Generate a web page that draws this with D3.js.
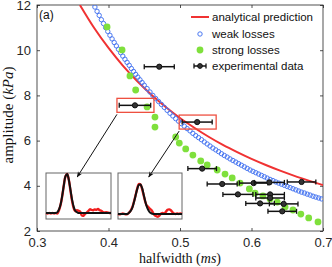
<!DOCTYPE html>
<html>
<head>
<meta charset="utf-8">
<script src="https://cdn.jsdelivr.net/npm/d3@7"></script>
<style>
  body { margin: 0; background: #fff; }
  svg { display: block; }
</style>
</head>
<body>
<svg id="chart"></svg>
<script>
// amplitude vs halfwidth, panel (a)

const xTicks = [0.3, 0.4, 0.5, 0.6, 0.7];
const yTicks = [2, 4, 6, 8, 10, 12];

// analytical prediction (red curve)
const analyticW = [0.36, 0.38, 0.40, 0.42, 0.44, 0.46, 0.48, 0.50, 0.52, 0.54, 0.56, 0.58, 0.60, 0.62, 0.64, 0.66, 0.68, 0.70];
const analyticA = [12.0, 10.98, 10.10, 9.32, 8.64, 8.03, 7.49, 7.00, 6.57, 6.17, 5.81, 5.49, 5.19, 4.92, 4.67, 4.44, 4.23, 4.03];

// weak losses (open blue circles)
const weakW = [0.378, 0.381, 0.384, 0.387, 0.390, 0.393, 0.396, 0.399, 0.402, 0.405, 0.408, 0.411, 0.414, 0.417, 0.420,
  0.423, 0.426, 0.429, 0.432, 0.435, 0.438, 0.441, 0.444, 0.447, 0.450, 0.454, 0.458, 0.462, 0.466, 0.470, 0.474, 0.478,
  0.482, 0.486, 0.490, 0.494, 0.498, 0.502, 0.506, 0.510, 0.514, 0.518, 0.522, 0.526, 0.530, 0.534, 0.538, 0.542, 0.546,
  0.550, 0.554, 0.558, 0.562, 0.566, 0.570, 0.574, 0.578, 0.582, 0.586, 0.590, 0.594, 0.598, 0.602, 0.606, 0.610, 0.614,
  0.618, 0.622, 0.626, 0.630, 0.634, 0.638, 0.642, 0.646, 0.650, 0.654, 0.658, 0.662, 0.666, 0.670, 0.674, 0.678, 0.682,
  0.686, 0.690, 0.694, 0.698];
const weakA = [12.10, 11.91, 11.72, 11.54, 11.35, 11.18, 11.00, 10.83, 10.66, 10.50, 10.34, 10.19, 10.04, 9.89, 9.74,
  9.60, 9.46, 9.33, 9.19, 9.06, 8.93, 8.81, 8.69, 8.57, 8.45, 8.30, 8.15, 8.00, 7.86, 7.73, 7.60, 7.47,
  7.34, 7.21, 7.09, 6.97, 6.86, 6.75, 6.64, 6.53, 6.43, 6.32, 6.22, 6.13, 6.04, 5.94, 5.85, 5.76, 5.67,
  5.59, 5.51, 5.42, 5.34, 5.27, 5.19, 5.12, 5.05, 4.98, 4.91, 4.84, 4.77, 4.70, 4.64, 4.58, 4.52, 4.46,
  4.40, 4.34, 4.28, 4.23, 4.17, 4.12, 4.07, 4.02, 3.97, 3.92, 3.87, 3.82, 3.77, 3.72, 3.68, 3.63, 3.59,
  3.54, 3.50, 3.46, 3.42];

// strong losses (filled green circles)
const strongW = [0.398, 0.419, 0.430, 0.438, 0.454, 0.465, 0.465, 0.494, 0.499, 0.508, 0.518, 0.529, 0.538, 0.552,
  0.563, 0.573, 0.584, 0.597, 0.605, 0.616, 0.626, 0.636, 0.647, 0.658, 0.669, 0.680, 0.693];
const strongA = [11.03, 10.01, 8.86, 8.24, 7.49, 7.04, 6.60, 6.16, 5.89, 5.63, 5.36, 5.10, 4.92, 4.70,
  4.52, 4.35, 4.12, 3.86, 3.68, 3.55, 3.42, 3.28, 3.06, 2.93, 2.75, 2.58, 2.40];

// experimental data with horizontal error bars
const expW = [0.471, 0.437, 0.524, 0.531, 0.559, 0.581, 0.603, 0.625, 0.670, 0.626, 0.626, 0.612, 0.645, 0.643];
const expA = [9.27, 7.56, 6.82, 4.76, 4.08, 3.62, 4.12, 4.15, 4.17, 3.62, 3.46, 3.22, 3.20, 2.87];
const expErr = [0.021, 0.022, 0.021, 0.020, 0.021, 0.021, 0.020, 0.021, 0.020, 0.020, 0.020, 0.020, 0.020, 0.020];

// highlighted points (indices into exp arrays) shown in the insets
const highlighted = [1, 2];

// inset pulses: normalised time and normalised amplitude
const insetT = [0, 0.025, 0.05, 0.075, 0.1, 0.125, 0.15, 0.175, 0.2, 0.225, 0.25, 0.275, 0.3, 0.325, 0.35, 0.375, 0.4,
  0.425, 0.45, 0.475, 0.5, 0.525, 0.55, 0.575, 0.6, 0.625, 0.65, 0.675, 0.7, 0.725, 0.75, 0.775, 0.8, 0.825, 0.85,
  0.875, 0.9, 0.925, 0.95, 0.975, 1];
const inset1Meas = [.13, .12, .13, .12, .13, .12, .13, .12, .19, .31, .50, .74, .93, .98, .86, .63, .40, .24, .17, .19,
  .18, .16, .08, .07, .11, .14, .17, .21, .20, .19, .21, .20, .22, .19, .18, .15, .14, .15, .14, .13, .13];
const inset1Fit = [.13, .13, .13, .13, .13, .13, .13, .15, .21, .32, .51, .74, .93, .98, .86, .65, .43, .27, .18, .15,
  .13, .13, .13, .13, .13, .13, .13, .13, .13, .13, .13, .13, .13, .13, .13, .13, .13, .13, .13, .13, .13];
const inset2Meas = [.11, .10, .11, .12, .11, .10, .11, .14, .19, .26, .38, .52, .66, .76, .75, .66, .52, .38, .29, .26,
  .22, .19, .13, .08, .06, .05, .08, .12, .13, .12, .16, .20, .21, .19, .15, .12, .11, .12, .11, .12, .11];
const inset2Fit = [.11, .11, .11, .11, .11, .11, .11, .14, .18, .25, .37, .51, .65, .74, .75, .68, .54, .39, .27, .19,
  .14, .12, .11, .11, .11, .11, .11, .11, .11, .11, .11, .11, .11, .11, .11, .11, .11, .11, .11, .11, .11];

// chart container specs
const width = 332;
const height = 267;
const plot = { left: 37, right: 323, top: 5, bottom: 231 };

const svg = d3.select("#chart")
  .attr("width", width)
  .attr("height", height)
  .attr("viewBox", `0 0 ${width} ${height}`);

const x = d3.scaleLinear().domain([0.3, 0.7]).range([plot.left, plot.right]);
const y = d3.scaleLinear().domain([2, 12]).range([plot.bottom, plot.top]);

const axisColor = "#262626";
const tickFont = "Liberation Sans, Arial, sans-serif";

svg.append("defs").append("clipPath").attr("id", "plot-clip")
  .append("rect")
  .attr("x", plot.left).attr("y", plot.top)
  .attr("width", plot.right - plot.left).attr("height", plot.bottom - plot.top);

svg.select("defs").append("marker")
  .attr("id", "arrowhead")
  .attr("viewBox", "0 0 10 10")
  .attr("refX", 9).attr("refY", 5)
  .attr("markerWidth", 6).attr("markerHeight", 6)
  .attr("orient", "auto")
  .append("path")
  .attr("d", "M0,1 L10,5 L0,9 L3,5 Z")
  .attr("fill", "#111");

// axes with inward ticks on all four sides
function styleAxis(g) {
  g.select(".domain").remove();
  g.selectAll(".tick line").attr("stroke", axisColor).attr("stroke-width", 0.8);
  g.selectAll(".tick text")
    .attr("fill", axisColor)
    .style("font-family", tickFont)
    .style("font-size", "13px");
}

svg.append("g")
  .attr("transform", `translate(0,${plot.bottom})`)
  .call(d3.axisBottom(x).tickValues(xTicks).tickFormat(d3.format(".1f")).tickSize(-3).tickPadding(7))
  .call(styleAxis);

svg.append("g")
  .attr("transform", `translate(0,${plot.top})`)
  .call(d3.axisTop(x).tickValues(xTicks).tickFormat("").tickSize(-3))
  .call(styleAxis);

svg.append("g")
  .attr("transform", `translate(${plot.left},0)`)
  .call(d3.axisLeft(y).tickValues(yTicks).tickSize(-3).tickPadding(6))
  .call(styleAxis);

svg.append("g")
  .attr("transform", `translate(${plot.right},0)`)
  .call(d3.axisRight(y).tickValues(yTicks).tickFormat("").tickSize(-3))
  .call(styleAxis);

svg.append("rect")
  .attr("x", plot.left).attr("y", plot.top)
  .attr("width", plot.right - plot.left).attr("height", plot.bottom - plot.top)
  .attr("fill", "none")
  .attr("stroke", axisColor)
  .attr("stroke-width", 0.8);

// axis labels
const xLabel = svg.append("text")
  .attr("x", (plot.left + plot.right) / 2)
  .attr("y", 263)
  .attr("text-anchor", "middle")
  .style("font-family", "Liberation Serif, Times New Roman, serif")
  .style("font-size", "14px")
  .attr("fill", "#111");
xLabel.append("tspan").text("halfwidth (");
xLabel.append("tspan").attr("font-style", "italic").text("ms");
xLabel.append("tspan").text(")");

const yLabel = svg.append("text")
  .attr("transform", `translate(13,${(plot.top + plot.bottom) / 2 - 3}) rotate(-90)`)
  .attr("text-anchor", "middle")
  .style("font-family", "Liberation Serif, Times New Roman, serif")
  .style("font-size", "15px")
  .attr("fill", "#111");
yLabel.append("tspan").text("amplitude (");
yLabel.append("tspan").attr("font-style", "italic").text("kPa");
yLabel.append("tspan").text(")");

const plotArea = svg.append("g").attr("clip-path", "url(#plot-clip)");

// analytical prediction
const analytic = analyticW.map((w, i) => ({ w, a: analyticA[i] }));
plotArea.append("path")
  .datum(analytic)
  .attr("fill", "none")
  .attr("stroke", "#f03232")
  .attr("stroke-width", 2)
  .attr("d", d3.line().x(d => x(d.w)).y(d => y(d.a)).curve(d3.curveMonotoneX));

// weak losses
plotArea.selectAll(".weak")
  .data(weakW.map((w, i) => ({ w, a: weakA[i] })))
  .enter()
  .append("circle")
  .attr("class", "weak")
  .attr("cx", d => x(d.w))
  .attr("cy", d => y(d.a))
  .attr("r", 2.2)
  .attr("fill", "none")
  .attr("stroke", "#4a78f2")
  .attr("stroke-width", 1);

// strong losses
plotArea.selectAll(".strong")
  .data(strongW.map((w, i) => ({ w, a: strongA[i] })))
  .enter()
  .append("circle")
  .attr("class", "strong")
  .attr("cx", d => x(d.w))
  .attr("cy", d => y(d.a))
  .attr("r", 3.4)
  .attr("fill", "#7fe03c");

// experimental data
const exp = expW.map((w, i) => ({ w, a: expA[i], e: expErr[i] }));
const expG = plotArea.selectAll(".exp")
  .data(exp)
  .enter()
  .append("g")
  .attr("class", "exp");

expG.append("line")
  .attr("x1", d => x(d.w - d.e)).attr("x2", d => x(d.w + d.e))
  .attr("y1", d => y(d.a)).attr("y2", d => y(d.a))
  .attr("stroke", "#111").attr("stroke-width", 1.5);
[-1, 1].forEach(s => {
  expG.append("line")
    .attr("x1", d => x(d.w + s * d.e)).attr("x2", d => x(d.w + s * d.e))
    .attr("y1", d => y(d.a) - 2.5).attr("y2", d => y(d.a) + 2.5)
    .attr("stroke", "#111").attr("stroke-width", 1.3);
});
expG.append("circle")
  .attr("cx", d => x(d.w)).attr("cy", d => y(d.a))
  .attr("r", 2.6)
  .attr("fill", "#333")
  .attr("stroke", "#111")
  .attr("stroke-width", 1);

// red boxes around the highlighted measurements
const boxes = highlighted.map(i => exp[i]);
svg.selectAll(".hl")
  .data(boxes)
  .enter()
  .append("rect")
  .attr("class", "hl")
  .attr("x", d => x(d.w) - 18)
  .attr("y", d => y(d.a) - 7)
  .attr("width", 37)
  .attr("height", 14)
  .attr("fill", "none")
  .attr("stroke", "#ee5040")
  .attr("stroke-width", 1.3);

// insets
const insets = [
  { x0: 46, x1: 111, meas: inset1Meas, fit: inset1Fit },
  { x0: 118, x1: 182, meas: inset2Meas, fit: inset2Fit }
];
const insetTop = 173, insetBottom = 219;

insets.forEach((ins, k) => {
  const ix = d3.scaleLinear().domain([0, 1]).range([ins.x0, ins.x1]);
  const iy = d3.scaleLinear().domain([0, 1]).range([insetBottom, insetTop]);
  const g = svg.append("g");
  g.append("rect")
    .attr("x", ins.x0).attr("y", insetTop)
    .attr("width", ins.x1 - ins.x0).attr("height", insetBottom - insetTop)
    .attr("fill", "#fff")
    .attr("stroke", "#666")
    .attr("stroke-width", 1);
  const line = d3.line().x((d, i) => ix(insetT[i])).y(d => iy(d)).curve(d3.curveCatmullRom);
  g.append("path").datum(ins.meas)
    .attr("fill", "none").attr("stroke", "#f01e1e").attr("stroke-width", 2.4)
    .attr("d", line);
  g.append("path").datum(ins.fit)
    .attr("fill", "none").attr("stroke", "#111").attr("stroke-width", 2)
    .attr("d", line);

  // arrow from red box to inset
  const b = boxes[k];
  svg.append("line")
    .attr("x1", x(b.w) - 20 + 2).attr("y1", y(b.a) + 9)
    .attr("x2", ix(0.48)).attr("y2", insetTop + 4)
    .attr("stroke", "#111")
    .attr("stroke-width", 1)
    .attr("marker-end", "url(#arrowhead)");
});

// panel tag
svg.append("text")
  .attr("x", 39).attr("y", 19)
  .style("font-family", tickFont)
  .style("font-size", "12px")
  .attr("fill", "#111")
  .text("(a)");

// legend
const legend = svg.append("g").attr("transform", "translate(191,0)");
const legendFont = { family: tickFont, size: "11.5px" };
const rows = ["analytical prediction", "weak losses", "strong losses", "experimental data"];
const rowY = [17, 34, 50, 66];

legend.append("line")
  .attr("x1", 0).attr("x2", 18).attr("y1", rowY[0]).attr("y2", rowY[0])
  .attr("stroke", "#f03232").attr("stroke-width", 2);
legend.append("circle")
  .attr("cx", 9).attr("cy", rowY[1]).attr("r", 2.2)
  .attr("fill", "none").attr("stroke", "#4a78f2").attr("stroke-width", 1);
legend.append("circle")
  .attr("cx", 9).attr("cy", rowY[2]).attr("r", 3.4)
  .attr("fill", "#7fe03c");
legend.append("line")
  .attr("x1", 3).attr("x2", 15).attr("y1", rowY[3]).attr("y2", rowY[3])
  .attr("stroke", "#111").attr("stroke-width", 1.5);
[3, 15].forEach(cx => {
  legend.append("line")
    .attr("x1", cx).attr("x2", cx).attr("y1", rowY[3] - 2.5).attr("y2", rowY[3] + 2.5)
    .attr("stroke", "#111").attr("stroke-width", 1.3);
});
legend.append("circle")
  .attr("cx", 9).attr("cy", rowY[3]).attr("r", 2.4)
  .attr("fill", "#333").attr("stroke", "#111");

legend.selectAll(".legend-label")
  .data(rows)
  .enter()
  .append("text")
  .attr("class", "legend-label")
  .attr("x", 21)
  .attr("y", (d, i) => rowY[i] + 4)
  .style("font-family", legendFont.family)
  .style("font-size", legendFont.size)
  .attr("fill", "#111")
  .text(d => d);
</script>
</body>
</html>
